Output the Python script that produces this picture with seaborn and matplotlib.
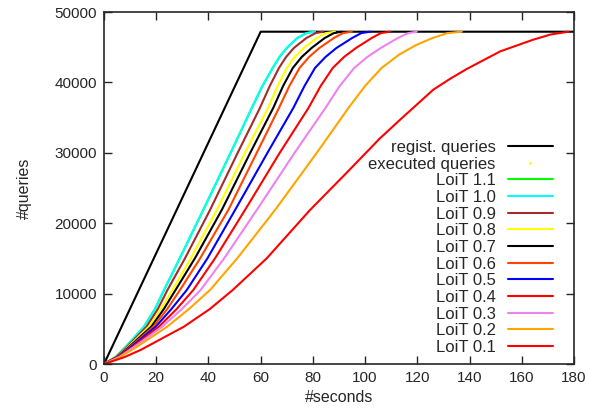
import numpy as np
import pandas as pd
import matplotlib
matplotlib.use("Agg")
import matplotlib.pyplot as plt
from matplotlib.lines import Line2D
import seaborn as sns

# registered queries: linear ramp then plateau
regist_t = [0, 60, 180]
regist_q = [0, 47200, 47200]

# executed queries per LoiT threshold
loit_labels = ["LoiT 1.1", "LoiT 1.0", "LoiT 0.9", "LoiT 0.8", "LoiT 0.7", "LoiT 0.6",
               "LoiT 0.5", "LoiT 0.4", "LoiT 0.3", "LoiT 0.2", "LoiT 0.1"]
loit_colors = ["#00ff00", "#00ffff", "#a52a2a", "#ffff00", "#000000", "#ff4500",
               "#0000ff", "#ff0000", "#ee82ee", "#ffa500", "#ff0000"]

# common #queries levels for LoiT 1.1 .. 0.3
q_lvl = [0, 1000, 2500, 5300, 7800, 10511, 15000, 21875, 30000, 36364,
         39500, 42045, 43600, 44886, 46300, 47000, 47200]
# seconds at which each curve reaches those levels
t_11 = [0, 4.5, 8.5, 15.3, 19.5, 23.0, 29.0, 38.0, 48.5, 56.6, 60.7, 64.6, 67.2, 70.0, 74.0, 77.5, 80.8]
t_10 = [0, 4.5, 8.5, 15.3, 19.5, 23.0, 29.0, 38.0, 48.5, 56.6, 60.7, 64.6, 67.2, 70.0, 74.0, 77.5, 80.8]
t_09 = [0, 4.7, 9.0, 16.3, 20.6, 24.3, 31.0, 40.6, 51.2, 59.7, 63.5, 67.0, 69.7, 72.7, 77.5, 81.0, 84.0]
t_08 = [0, 4.9, 9.4, 17.2, 21.8, 26.2, 33.2, 43.2, 54.0, 62.8, 66.5, 70.0, 73.0, 76.5, 81.5, 85.0, 88.5]
t_07 = [0, 5.0, 9.8, 18.1, 22.9, 27.4, 34.8, 45.1, 56.0, 64.8, 68.6, 72.3, 75.7, 79.5, 84.5, 88.0, 91.0]
t_06 = [0, 5.2, 10.2, 18.9, 24.2, 29.1, 36.8, 47.6, 58.5, 67.0, 71.0, 74.9, 78.5, 82.5, 88.0, 91.5, 94.9]
t_05 = [0, 5.4, 10.6, 19.8, 25.8, 31.7, 39.6, 50.2, 62.6, 72.5, 76.8, 80.8, 84.8, 89.0, 95.0, 98.5, 101.9]
t_04 = [0, 5.6, 11.2, 21.0, 27.8, 34.2, 42.5, 54.0, 67.3, 78.3, 83.0, 87.6, 91.9, 96.5, 102.5, 106.0, 109.5]
t_03 = [0, 5.9, 11.8, 22.3, 29.8, 37.0, 46.0, 58.5, 73.0, 84.8, 90.3, 95.8, 100.8, 106.0, 112.5, 116.5, 119.8]

t_02 = [0, 6.3, 12.8, 24.2, 32.5, 40.6, 51.0, 65.5, 81.5, 93.6, 100.0, 106.3, 113.0, 119.5, 125.8, 131.5, 137.0]
q_02 = [0, 1000, 2500, 5300, 7800, 10511, 15000, 21875, 30000, 36364, 39500, 42045, 43940, 45300, 46300, 47000, 47200]
t_01 = [0, 8.0, 14.0, 30.6, 40.5, 49.3, 62.3, 78.9, 92.5, 105.7, 113.4, 126.1, 132.5,
        138.9, 151.7, 164.4, 171.0, 177.8]
q_01 = [0, 1000, 1990, 5300, 7800, 10511, 15000, 21875, 27000, 32060, 34700, 38960, 40500,
        41900, 44400, 46070, 46800, 47200]

loit_t = [t_11, t_10, t_09, t_08, t_07, t_06, t_05, t_04, t_03, t_02, t_01]
loit_q = [q_lvl] * 9 + [q_02, q_01]

sns.set_style("ticks")
plt.rcParams["font.family"] = ["Liberation Sans", "DejaVu Sans"]
plt.rcParams["font.size"] = 11.5

fig = plt.figure(figsize=(5.9, 4.2), dpi=100)
ax = fig.add_axes([104 / 590, 1 - 364 / 420, 470 / 590, 352 / 420])

sns.lineplot(x=regist_t, y=regist_q, ax=ax, color="black", lw=1.5,
             sort=False, estimator=None, label="regist. queries")
for lab, col, tt, qq in zip(loit_labels, loit_colors, loit_t, loit_q):
    df = pd.DataFrame({"t": tt, "q": qq})
    sns.lineplot(data=df, x="t", y="q", ax=ax, color=col, lw=1.5,
                 sort=False, estimator=None, label=lab)

ax.set_xlim(0, 180)
ax.set_ylim(0, 50000)
ax.set_xticks(np.arange(0, 181, 20))
ax.set_yticks(np.arange(0, 50001, 10000))
ax.tick_params(direction="in", length=6, width=1, top=True, right=True,
               labelsize=11, pad=5)
for sp in ax.spines.values():
    sp.set_visible(True)
    sp.set_linewidth(1.2)
ax.set_xlabel("#seconds", fontsize=11.5)
ax.set_ylabel("#queries", fontsize=11.5, labelpad=16)

handles, labels = ax.get_legend_handles_labels()
dot = Line2D([], [], color="yellow", marker=".", markersize=2, linestyle="none")
handles.insert(1, dot)
labels.insert(1, "executed queries")
ax.legend(handles, labels, loc="lower right", bbox_to_anchor=(0.972, 0.002),
          frameon=False, markerfirst=False, fontsize=12, labelspacing=0.1,
          handlelength=2.7, handletextpad=0.7, borderpad=0, numpoints=1)

fig.savefig("out.png", dpi=100)
